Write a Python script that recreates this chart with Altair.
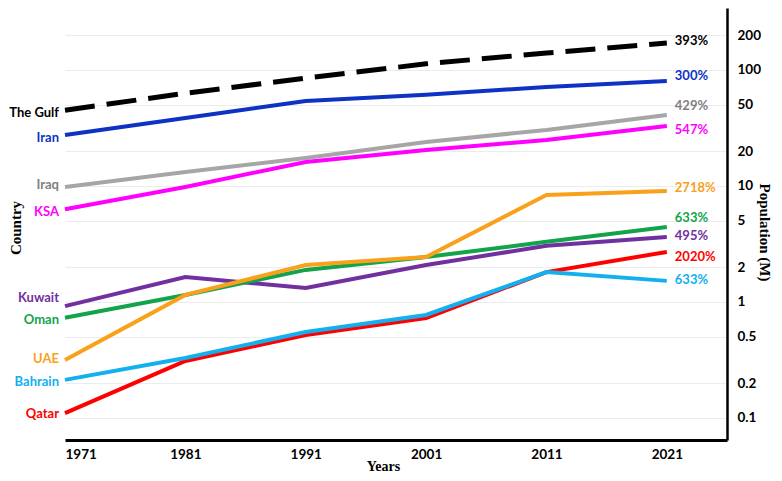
import altair as alt
import pandas as pd

# ---------------- data ----------------
YEARS = [1971, 1981, 1991, 2001, 2011, 2021]
SERIES = ["The Gulf", "Iran", "Iraq", "KSA", "Kuwait", "Oman", "UAE", "Qatar", "Bahrain"]

GULF = [45.0, 63.0, 85.0, 113.0, 140.0, 171.0]
IRAN = [27.5, 38.6, 54.0, 61.0, 71.4, 80.4]
IRAQ = [9.8, 13.2, 17.4, 23.9, 30.4, 40.9]
KSA = [6.3, 9.8, 16.1, 20.4, 24.9, 32.9]
KUWAIT = [0.92, 1.64, 1.32, 2.08, 3.05, 3.63]
OMAN = [0.73, 1.15, 1.89, 2.44, 3.3, 4.43]
UAE = [0.316, 1.15, 2.08, 2.44, 8.37, 9.06]
QATAR = [0.110, 0.310, 0.52, 0.728, 1.81, 2.70]
BAHRAIN = [0.213, 0.329, 0.551, 0.773, 1.81, 1.52]

VALUES = {"The Gulf": GULF, "Iran": IRAN, "Iraq": IRAQ, "KSA": KSA, "Kuwait": KUWAIT,
          "Oman": OMAN, "UAE": UAE, "Qatar": QATAR, "Bahrain": BAHRAIN}
PCT = ["393%", "300%", "429%", "547%", "495%", "633%", "2718%", "2020%", "633%"]
Y_TICKS = [0.1, 0.2, 0.5, 1, 2, 5, 10, 20, 50, 100, 200]

# ---------------- styles ----------------
LINE_COLORS = {"The Gulf": "#000000", "Iran": "#0d32c4", "Iraq": "#a6a6a6", "KSA": "#ff00ff",
               "Kuwait": "#7030a0", "Oman": "#13a44b", "UAE": "#f9a11b", "Qatar": "#ff0000",
               "Bahrain": "#12b0ee"}
TEXT_COLORS = dict(LINE_COLORS, Iraq="#7f7f7f")
LEFT_DY = {"The Gulf": 3, "Iran": 3, "Iraq": -2, "KSA": 3, "Kuwait": -8, "Oman": 2,
           "UAE": -1, "Qatar": 1, "Bahrain": 2}
RIGHT_DY = {"The Gulf": -2, "Iran": -5, "Iraq": -9, "KSA": 4, "Kuwait": -1, "Oman": -9,
            "UAE": -3, "Qatar": 5, "Bahrain": -1}
SANS = "Lato"
SERIF = "Liberation Serif"
LABEL_SIZE = 13

rows = []
for s, pct in zip(SERIES, PCT):
    for yr, v in zip(YEARS, VALUES[s]):
        rows.append({"country": s, "year": yr, "pop": v, "pct": pct})
df = pd.DataFrame(rows)

x_enc = alt.X(
    "year:Q",
    scale=alt.Scale(domain=[1971, 2026], nice=False, zero=False),
    axis=alt.Axis(values=YEARS, format="d", title="Years", grid=False, ticks=False,
                  domainColor="black", domainWidth=3, labelPadding=7,
                  labelFont=SANS, labelFontWeight="bold", labelFontSize=13.5, labelColor="black",
                  titleFont=SERIF, titleFontWeight="bold", titleFontSize=14, titleColor="black",
                  titleX=318, titleY=26, titleBaseline="middle", titleAlign="center"),
)
y_enc = alt.Y(
    "pop:Q",
    scale=alt.Scale(type="log", domain=[0.0646, 342], nice=False),
    axis=alt.Axis(orient="right", values=Y_TICKS, format="~g", title="Population (M)",
                  grid=True, gridColor="#ececec", gridWidth=1, ticks=False,
                  domainColor="black", domainWidth=2.5, labelPadding=10,
                  labelFont=SANS, labelFontWeight="bold", labelFontSize=13.5, labelColor="black",
                  titleFont=SERIF, titleFontWeight="bold", titleFontSize=15, titleColor="black",
                  titleAngle=90, titleX=37, titleY=224, titleBaseline="middle", titleAlign="center"),
)

layers = []
for s in SERIES:
    base = alt.Chart(df).transform_filter(alt.datum.country == s)
    if s == "The Gulf":
        line = base.mark_line(color=LINE_COLORS[s], strokeWidth=5, strokeDash=[30, 12])
    else:
        line = base.mark_line(color=LINE_COLORS[s], strokeWidth=4)
    layers.append(line.encode(x=x_enc, y=y_enc))

for s in SERIES:
    base = alt.Chart(df).transform_filter(alt.datum.country == s)
    left = base.transform_filter(alt.datum.year == 1971).mark_text(
        align="right", baseline="middle", dx=-6, dy=LEFT_DY[s], font=SANS,
        fontWeight="bold", fontSize=LABEL_SIZE, color=TEXT_COLORS[s]
    ).encode(x=x_enc, y=y_enc, text="country:N")
    right = base.transform_filter(alt.datum.year == 2021).mark_text(
        align="left", baseline="middle", dx=8, dy=RIGHT_DY[s], font=SANS,
        fontWeight="bold", fontSize=LABEL_SIZE, color=TEXT_COLORS[s]
    ).encode(x=x_enc, y=y_enc, text="pct:N")
    layers += [left, right]

country_title = alt.Chart(pd.DataFrame({"t": ["Country"]})).mark_text(
    angle=270, align="center", baseline="middle", font=SERIF, fontWeight="bold",
    fontSize=15, color="black"
).encode(x=alt.value(-49), y=alt.value(220), text="t:N")
layers.append(country_title)

chart = alt.layer(*layers).properties(
    width=662, height=432,
    autosize=alt.AutoSizeParams(type="none"),
    padding={"left": 57, "top": 0, "right": 44, "bottom": 33},
).configure_view(stroke=None)

chart.save("out.html", embed_options={"renderer": "svg", "actions": False})
